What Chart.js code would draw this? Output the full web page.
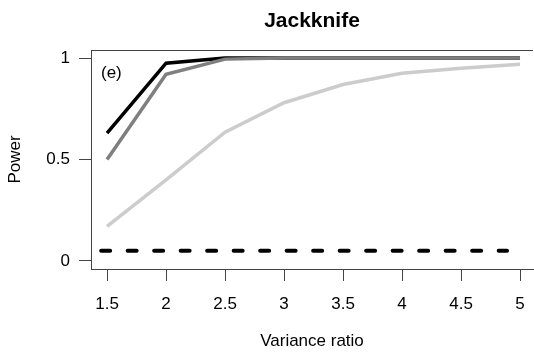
<!DOCTYPE html>
<html>
<head>
<meta charset="utf-8">
<script src="https://cdn.jsdelivr.net/npm/chart.js@4"></script>
<style>
  html, body { margin: 0; padding: 0; background: #fff; overflow: hidden; }
  #wrap { width: 534px; height: 358px; }
</style>
</head>
<body>
<div id="wrap"><canvas id="powerChart"></canvas></div>
<script>
const varianceRatio = [1.5, 2, 2.5, 3, 3.5, 4, 4.5, 5]
const powerBlack = [0.63, 0.975, 1.0, 1.0, 1.0, 1.0, 1.0, 1.0]
const powerDarkGrey = [0.50, 0.92, 0.995, 1.0, 1.0, 1.0, 1.0, 1.0]
const powerLightGrey = [0.17, 0.40, 0.635, 0.78, 0.87, 0.925, 0.95, 0.97]
const nominalX = [1.45, 4.89]
const nominalLevel = [0.05, 0.05]
const xTicks = [1.5, 2, 2.5, 3, 3.5, 4, 4.5, 5]
const yTicks = [0, 0.5, 1]

const fontFamily = '"Liberation Sans", Arial, Helvetica, sans-serif'
const axisColor = '#444'

function toPoints(xs, ys) {
    return xs.map((x, i) => ({x: x, y: ys[i]}))
}

// title, panel letter and the top edge of the box
const extras = {
    id: 'extras',
    afterDraw(chart) {
        const {ctx, chartArea} = chart
        ctx.save()
        ctx.strokeStyle = axisColor
        ctx.lineWidth = 1
        ctx.beginPath()
        ctx.moveTo(chartArea.left, chartArea.top + 0.5)
        ctx.lineTo(chartArea.right, chartArea.top + 0.5)
        ctx.stroke()

        ctx.fillStyle = '#000'
        ctx.font = 'bold 21px ' + fontFamily
        ctx.textAlign = 'center'
        ctx.textBaseline = 'alphabetic'
        ctx.fillText('Jackknife', (chartArea.left + chartArea.right) / 2, 27)

        ctx.font = '17px ' + fontFamily
        ctx.textAlign = 'left'
        ctx.fillText('(e)', chartArea.left + 10, chartArea.top + 28)
        ctx.restore()
    }
}

const ctxChart = document.getElementById('powerChart')

new Chart(ctxChart, {
    type: 'line',
    data: {
        datasets: [{
            label: 'dark grey',
            data: toPoints(varianceRatio, powerDarkGrey),
            borderColor: '#7f7f7f',
            borderWidth: 3.5
        }, {
            label: 'black',
            data: toPoints(varianceRatio, powerBlack),
            borderColor: '#000000',
            borderWidth: 3.5
        }, {
            label: 'light grey',
            data: toPoints(varianceRatio, powerLightGrey),
            borderColor: '#cccccc',
            borderWidth: 3.5
        }, {
            label: 'nominal',
            data: toPoints(nominalX, nominalLevel),
            borderColor: '#000000',
            borderWidth: 4,
            borderDash: [9, 17.5],
            borderCapStyle: 'round'
        }]
    },
    options: {
        responsive: true,
        maintainAspectRatio: false,
        animation: false,
        devicePixelRatio: 1,
        layout: {
            padding: {top: 50, left: 0, right: 1, bottom: 0}
        },
        elements: {
            point: {radius: 0},
            line: {tension: 0, fill: false}
        },
        plugins: {
            legend: {display: false},
            tooltip: {enabled: false},
            title: {display: false}
        },
        scales: {
            x: {
                type: 'linear',
                min: 1.364,
                max: 5.11,
                afterBuildTicks: (s) => { s.ticks = xTicks.map(v => ({value: v})) },
                afterFit: (s) => {
                    s.height = 89
                    s.paddingLeft = 0
                    s.paddingRight = 0
                },
                ticks: {
                    font: {family: fontFamily, size: 17},
                    color: '#000',
                    padding: 13,
                    maxRotation: 0,
                    autoSkip: false,
                    callback: (v) => String(v)
                },
                grid: {
                    display: true,
                    drawOnChartArea: false,
                    drawTicks: true,
                    tickLength: 12,
                    color: axisColor,
                    lineWidth: 1
                },
                border: {display: true, color: axisColor, width: 1},
                title: {
                    display: true,
                    text: 'Variance ratio',
                    font: {family: fontFamily, size: 17},
                    color: '#000',
                    padding: {top: 0, bottom: 6}
                }
            },
            y: {
                min: -0.04,
                max: 1.04,
                afterBuildTicks: (s) => { s.ticks = yTicks.map(v => ({value: v})) },
                afterFit: (s) => {
                    s.width = 91
                    s.paddingTop = 0
                    s.paddingBottom = 0
                },
                ticks: {
                    font: {family: fontFamily, size: 17},
                    color: '#000',
                    padding: 9,
                    callback: (v) => String(v)
                },
                grid: {
                    display: true,
                    drawOnChartArea: false,
                    drawTicks: true,
                    tickLength: 12,
                    color: axisColor,
                    lineWidth: 1
                },
                border: {display: true, color: axisColor, width: 1},
                title: {
                    display: true,
                    text: 'Power',
                    font: {family: fontFamily, size: 17},
                    color: '#000',
                    padding: {top: 5, bottom: 0}
                }
            }
        }
    },
    plugins: [extras]
})
</script>
</body>
</html>
